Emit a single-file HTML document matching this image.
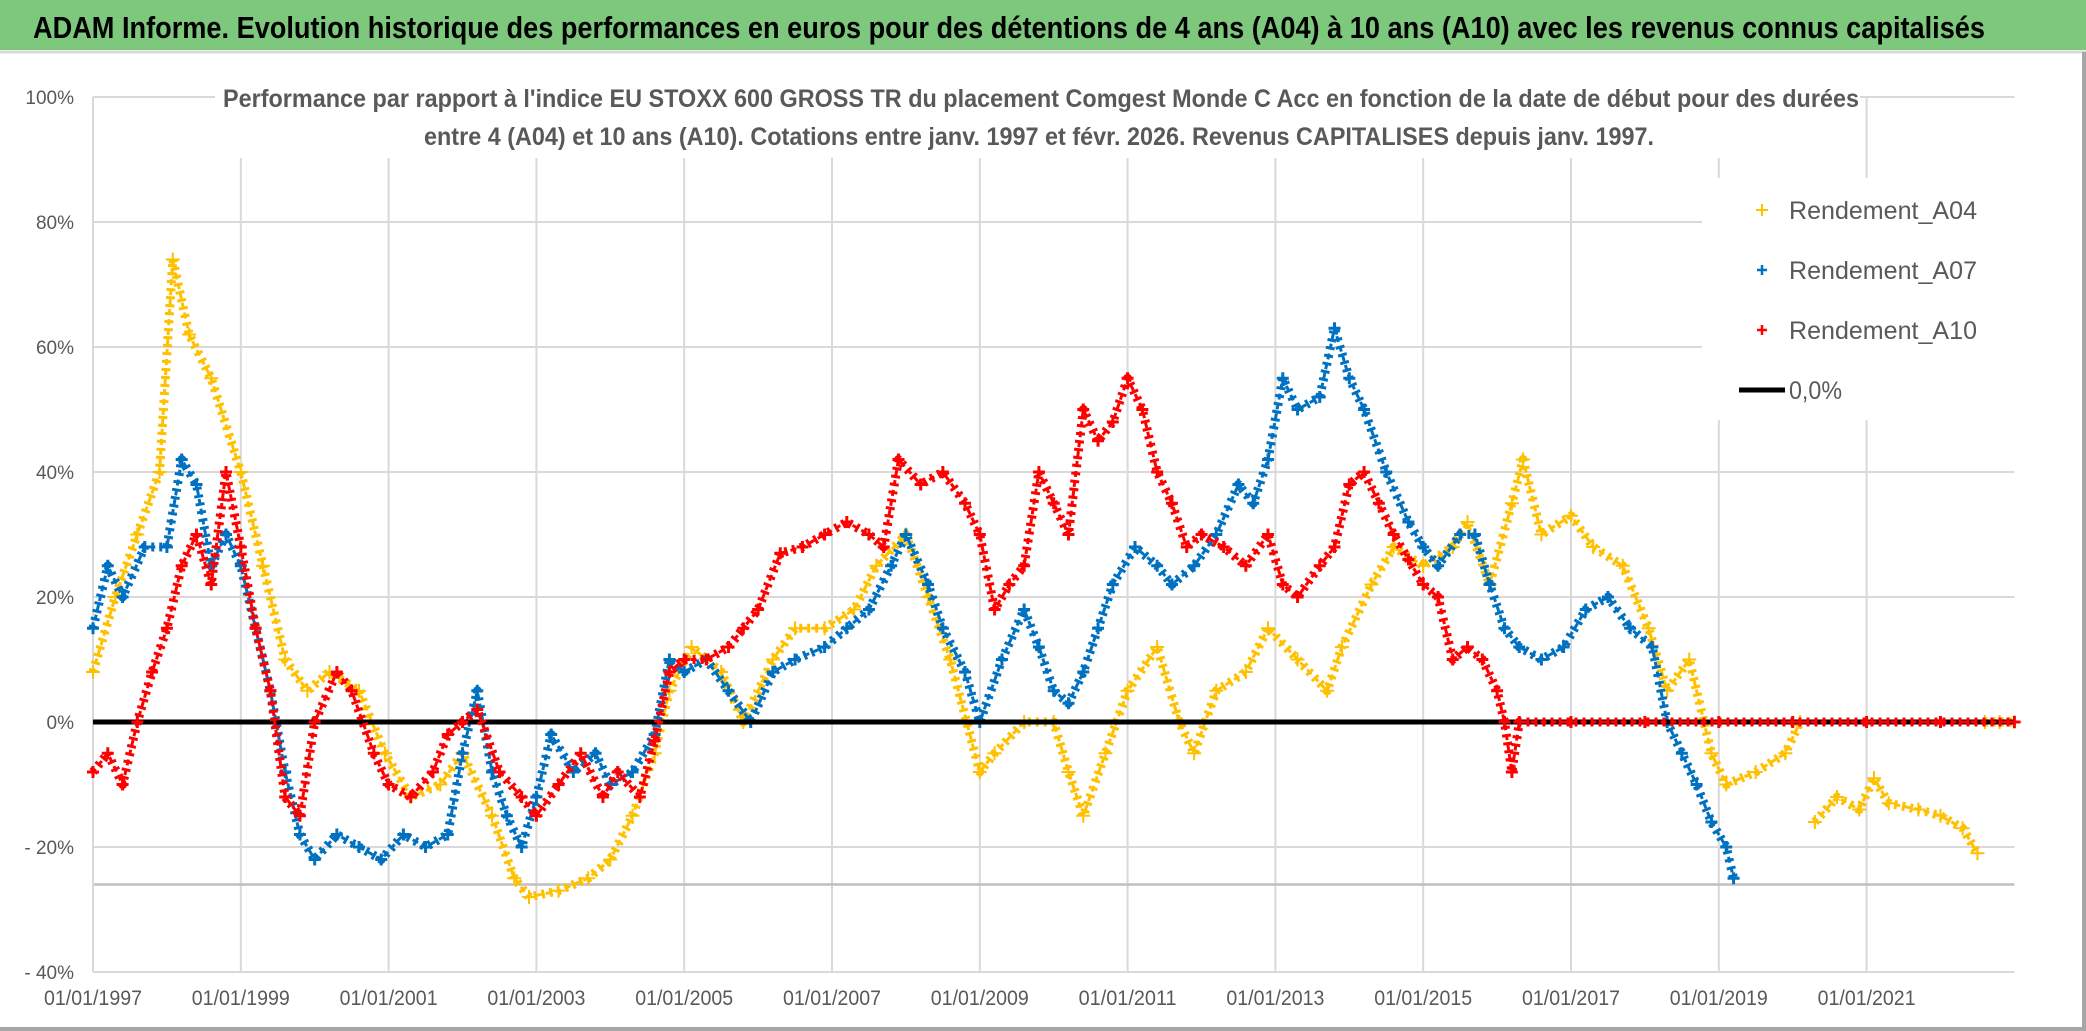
<!DOCTYPE html>
<html><head><meta charset="utf-8"><style>
html,body{margin:0;padding:0;background:#fff;}
svg{display:block;font-family:"Liberation Sans Narrow","Liberation Sans",sans-serif;}
</style></head><body>
<svg id="chart" width="2086" height="1031" viewBox="0 0 2086 1031">
<rect x="0" y="0" width="2086" height="1031" fill="#fff"/>
<rect x="0" y="0" width="2086" height="50" fill="#7dc87d"/>
<line x1="0" y1="52" x2="2086" y2="52" stroke="#d9d9d9" stroke-width="3"/>
<text x="33" y="38" font-size="31" font-weight="bold" fill="#000" textLength="1952" lengthAdjust="spacingAndGlyphs">ADAM Informe. Evolution historique des performances en euros pour des détentions de 4 ans (A04) à 10 ans (A10) avec les revenus connus capitalisés</text>
<rect x="2082" y="52" width="4" height="979" fill="#a6a6a6"/>
<rect x="0" y="1027" width="2086" height="4" fill="#a6a6a6"/>
<g id="grid"></g>
<rect x="215" y="75" width="1645" height="83" fill="#fff"/>
<text x="1041" y="107" font-size="25" font-weight="bold" fill="#595959" text-anchor="middle" textLength="1636" lengthAdjust="spacingAndGlyphs">Performance par rapport à l'indice EU STOXX 600 GROSS TR  du placement Comgest Monde C Acc en fonction de la date de début pour des durées</text>
<text x="1039" y="145" font-size="25" font-weight="bold" fill="#595959" text-anchor="middle" textLength="1230" lengthAdjust="spacingAndGlyphs">entre 4 (A04) et 10 ans (A10). Cotations entre janv. 1997 et févr. 2026. Revenus CAPITALISES depuis janv. 1997.</text>
<g id="axes"></g>
<g id="series"></g>
<g id="legend">
<rect x="1702" y="178" width="313" height="242" fill="#fff"/>
<g>
<path d="M1756 210h12M1762 204v12" stroke="#ffc000" stroke-width="2"/>
<text x="1789" y="219" font-size="25" fill="#595959" textLength="188" lengthAdjust="spacingAndGlyphs">Rendement_A04</text></g>
<g>
<path d="M1757 270h10M1762 265v10" stroke="#0070c0" stroke-width="2.5"/>
<text x="1789" y="279" font-size="25" fill="#595959" textLength="188" lengthAdjust="spacingAndGlyphs">Rendement_A07</text></g>
<g>
<path d="M1757 330h10M1762 325v10" stroke="#ff0000" stroke-width="2.5"/>
<text x="1789" y="339" font-size="25" fill="#595959" textLength="188" lengthAdjust="spacingAndGlyphs">Rendement_A10</text></g>
<g>
<line x1="1739" y1="390" x2="1785" y2="390" stroke="#000" stroke-width="5"/>
<text x="1789" y="399" font-size="25" fill="#595959" textLength="53" lengthAdjust="spacingAndGlyphs">0,0%</text></g>
</g>
</svg>
<script>
const xTickYears = [1997,1999,2001,2003,2005,2007,2009,2011,2013,2015,2017,2019,2021];
const xTickLabels = ["01/01/1997","01/01/1999","01/01/2001","01/01/2003","01/01/2005","01/01/2007","01/01/2009","01/01/2011","01/01/2013","01/01/2015","01/01/2017","01/01/2019","01/01/2021"];
const yTicks = [100,80,60,40,20,0,-20,-40];
const yTickLabels = ["100%","80%","60%","40%","20%","0%","- 20%","- 40%"];
const refLineValue = -26;
const zeroLineValue = 0;

const a04Dates = [1997.0,1997.3,1997.6,1997.9,1998.08,1998.3,1998.6,1999.0,1999.3,1999.6,1999.9,2000.2,2000.6,2000.95,2001.3,2001.7,2002.0,2002.4,2002.7,2002.9,2003.3,2003.7,2004.0,2004.3,2004.6,2004.8,2005.1,2005.5,2005.8,2006.2,2006.5,2006.9,2007.3,2007.6,2008.0,2008.3,2008.6,2009.0,2009.2,2009.6,2010.0,2010.2,2010.4,2010.7,2011.0,2011.4,2011.7,2011.9,2012.2,2012.6,2012.9,2013.3,2013.7,2013.9,2014.3,2014.6,2015.0,2015.4,2015.6,2015.9,2016.2,2016.35,2016.6,2017.0,2017.3,2017.7,2018.05,2018.3,2018.6,2018.9,2019.1,2019.5,2019.9,2020.1,2020.3,2020.6,2020.9,2021.1,2021.3,2021.7,2022.0,2022.3,2022.5,2022.6,2022.8,2023.0];
const a04Values = [8,20,30,40,74,62,55,40,25,10,5,8,5,-5,-12,-10,-5,-15,-25,-28,-27,-25,-22,-15,-5,5,12,8,0,10,15,15,18,25,30,20,10,-8,-5,0,0,-8,-15,-5,5,12,0,-5,5,8,15,10,5,12,22,28,25,28,32,22,35,42,30,33,28,25,15,5,10,-5,-10,-8,-5,0,-16,-12,-14,-9,-13,-14,-15,-17,-21,0,0,0];

const a07Dates = [1997.0,1997.2,1997.4,1997.7,1998.0,1998.2,1998.4,1998.6,1998.8,1999.0,1999.2,1999.4,1999.6,1999.8,2000.0,2000.3,2000.6,2000.9,2001.2,2001.5,2001.8,2002.0,2002.2,2002.4,2002.6,2002.8,2003.0,2003.2,2003.5,2003.8,2004.0,2004.3,2004.6,2004.8,2005.0,2005.3,2005.6,2005.9,2006.2,2006.5,2006.9,2007.2,2007.5,2007.8,2008.0,2008.3,2008.5,2008.8,2009.0,2009.3,2009.6,2009.8,2010.0,2010.2,2010.4,2010.6,2010.8,2011.1,2011.4,2011.6,2011.9,2012.2,2012.5,2012.7,2012.9,2013.1,2013.3,2013.6,2013.8,2014.0,2014.2,2014.5,2014.8,2015.0,2015.2,2015.5,2015.7,2015.9,2016.1,2016.3,2016.6,2016.9,2017.2,2017.5,2017.8,2018.1,2018.3,2018.5,2018.7,2018.9,2019.1,2019.2];
const a07Values = [15,25,20,28,28,42,38,25,30,25,15,5,-8,-18,-22,-18,-20,-22,-18,-20,-18,-5,5,-8,-15,-20,-12,-2,-8,-5,-10,-8,-2,10,8,10,5,0,8,10,12,15,18,25,30,22,15,8,0,10,18,12,5,3,8,15,22,28,25,22,25,30,38,35,42,55,50,52,63,55,50,40,32,28,25,30,30,22,15,12,10,12,18,20,15,12,0,-5,-10,-16,-20,-25];

const a10Dates = [1997.0,1997.2,1997.4,1997.6,1997.8,1998.0,1998.2,1998.4,1998.6,1998.8,1999.0,1999.2,1999.4,1999.6,1999.8,2000.0,2000.3,2000.5,2000.8,2001.0,2001.3,2001.6,2001.8,2002.0,2002.2,2002.5,2002.8,2003.0,2003.3,2003.6,2003.9,2004.1,2004.4,2004.6,2004.8,2005.0,2005.3,2005.6,2005.8,2006.0,2006.3,2006.6,2006.9,2007.2,2007.5,2007.7,2007.9,2008.2,2008.5,2008.8,2009.0,2009.2,2009.4,2009.6,2009.8,2010.0,2010.2,2010.4,2010.6,2010.8,2011.0,2011.2,2011.4,2011.6,2011.8,2012.0,2012.3,2012.6,2012.9,2013.1,2013.3,2013.6,2013.8,2014.0,2014.2,2014.4,2014.6,2014.8,2015.0,2015.2,2015.4,2015.6,2015.8,2016.0,2016.1,2016.2,2016.3,2017.0,2018.0,2019.0,2020.0,2021.0,2022.0,2023.0];
const a10Values = [-8,-5,-10,0,8,15,25,30,22,40,28,15,5,-12,-15,0,8,5,-5,-10,-12,-8,-2,0,2,-8,-12,-15,-10,-5,-12,-8,-12,-3,8,10,10,12,15,18,27,28,30,32,30,28,42,38,40,35,30,18,22,25,40,35,30,50,45,48,55,50,40,35,28,30,28,25,30,22,20,25,28,38,40,35,30,26,22,20,10,12,10,5,0,-8,0,0,0,0,0,0,0,0];

const NS = "http://www.w3.org/2000/svg";
const X0 = 93, PX_PER_YEAR = 73.9, Y0 = 722, PX_PER_PCT = 6.25;
const GAP_PCT = 15.5;
function xScale(year){ return X0 + (year - 1997) * PX_PER_YEAR; }
function yScale(v){ return Y0 - v * PX_PER_PCT; }
const X_END = xScale(2023);
function mk(tag, attrs, parent){ const e = document.createElementNS(NS, tag); for (const k in attrs) e.setAttribute(k, attrs[k]); parent.appendChild(e); return e; }

const grid = document.getElementById('grid');
yTicks.forEach((t, i) => {
  const gl = mk('line', {x1: X0, x2: X_END, y1: yScale(t), y2: yScale(t), stroke: '#d9d9d9', 'stroke-width': 2}, grid);
  
  
});
xTickYears.forEach((yr, i) => {
  if (i === 0) return;
  const gl = mk('line', {x1: xScale(yr), x2: xScale(yr), y1: yScale(100), y2: yScale(-40), stroke: '#d9d9d9', 'stroke-width': 2}, grid);
  
  
});
const ref = mk('line', {x1: X0, x2: X_END, y1: yScale(refLineValue), y2: yScale(refLineValue), stroke: '#bfbfbf', 'stroke-width': 2.5}, grid);


const yax = mk('line', {x1: X0, x2: X0, y1: yScale(100), y2: yScale(-40), stroke: '#d9d9d9', 'stroke-width': 2}, grid);



const axes = document.getElementById('axes');
yTicks.forEach((t, i) => {
  const tx = mk('text', {x: 74, y: yScale(t) + 7, 'font-size': 19, fill: '#595959', 'text-anchor': 'end'}, axes);
  tx.textContent = yTickLabels[i];
  
  
});
xTickYears.forEach((yr, i) => {
  const tx = mk('text', {x: xScale(yr), y: 1005, 'font-size': 21, fill: '#595959', 'text-anchor': 'middle', textLength: 98, lengthAdjust: 'spacingAndGlyphs'}, axes);
  tx.textContent = xTickLabels[i];
  
  
});

const seriesG = document.getElementById('series');
function drawSeries(dates, vals, color, name, sw, sz){
  const g = mk('g', {}, seriesG);
  
  
  let d = '';
  dates.forEach((yr, i) => {
    const brk = i === 0 || ((vals[i] === 0 || vals[i - 1] === 0) && Math.abs(vals[i] - vals[i - 1]) > GAP_PCT);
    d += (brk ? 'M' : 'L') + xScale(yr).toFixed(1) + ' ' + yScale(vals[i]).toFixed(1);
  });
  const p = mk('path', {d: d, fill: 'none', stroke: color, 'stroke-width': 9, 'stroke-dasharray': '3 5', 'stroke-linejoin': 'round'}, g);
  
  
  const p2 = mk('path', {d: d, fill: 'none', stroke: color, 'stroke-width': 3, 'stroke-dasharray': '6 4', 'stroke-dashoffset': 2, 'stroke-linejoin': 'round'}, g);
  
  
  dates.forEach((yr, i) => {
    const cx = xScale(yr), cy = yScale(vals[i]);
    const m = mk('path', {d: `M${cx - sz} ${cy}h${2 * sz}M${cx} ${cy - sz}v${2 * sz}`, stroke: color, 'stroke-width': sw}, g);
    
    
  });
}
drawSeries(a04Dates, a04Values, '#ffc000', 'series-a04', 2, 7);
drawSeries(a07Dates, a07Values, '#0070c0', 'series-a07', 3, 6);
const zl = mk('line', {x1: X0, x2: X_END, y1: yScale(zeroLineValue), y2: yScale(zeroLineValue), stroke: '#000', 'stroke-width': 5}, seriesG);


drawSeries(a10Dates, a10Values, '#ff0000', 'series-a10', 3, 6);
</script>
</body></html>
